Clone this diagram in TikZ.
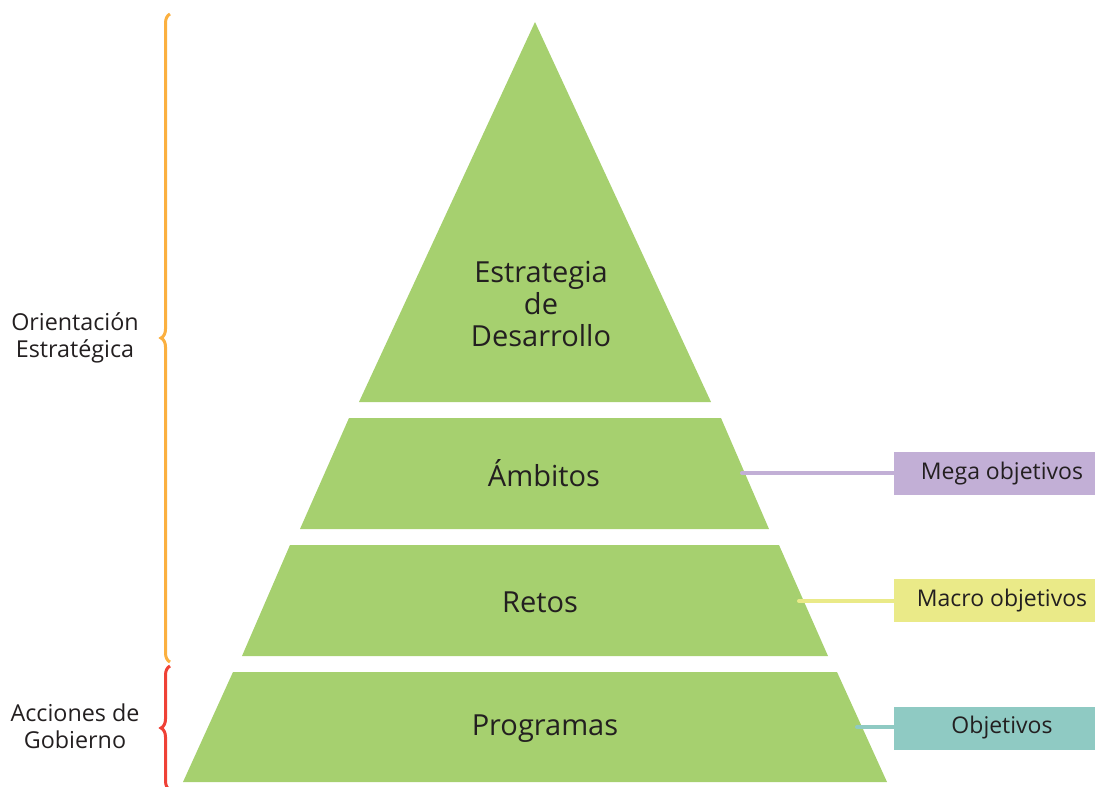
\documentclass[tikz,border=0pt]{standalone}
\usepackage{fontspec}
\setmainfont{Open Sans}
\usetikzlibrary{positioning,decorations.pathreplacing}

\definecolor{pyrgreen}{HTML}{A6D06F}
\definecolor{megapurple}{HTML}{C2AFD6}
\definecolor{macroyellow}{HTML}{EAEA88}
\definecolor{objteal}{HTML}{8FCAC3}
\definecolor{braceorange}{HTML}{FBB040}
\definecolor{bracered}{HTML}{EF4136}
\definecolor{ink}{HTML}{231F20}

\begin{document}
\begin{tikzpicture}[x=1pt,y=-1pt,
    level/.style={fill=pyrgreen},
    leveltext/.style={text=ink,align=center,font=\fontsize{29}{32}\selectfont},
    tag/.style={minimum width=216pt,minimum height=43pt,inner sep=0pt,text=ink,font=\fontsize{23}{26}\selectfont},
    sidetext/.style={text=ink,align=center,font=\fontsize{23.3}{27}\selectfont},
    brc/.style={decorate,decoration={brace,amplitude=9pt},line width=3pt},
    link/.style={line width=4pt,line cap=round}]
    \useasboundingbox (0,0) rectangle (1095,787);

    % pyramid
    \coordinate (apex) at (535,22);
    \fill[level] (apex) -- (711,402) -- (359,402) -- cycle;
    \fill[level] (349,418) -- (721,418) -- (769,529) -- (300,529) -- cycle;
    \fill[level] (290,545) -- (779,545) -- (828,656) -- (242,656) -- cycle;
    \fill[level] (233,672) -- (837,672) -- (887,782) -- (183,782) -- cycle;

    \node[leveltext] (estrategia) at (541,304) {Estrategia\\de\\ Desarrollo};
    \node[leveltext] (ambitos) at (544,473) {Ámbitos};
    \node[leveltext] (retos) at (540,602) {Retos};
    \node[leveltext] (programas) at (545,729) {Programas};

    % tags on the right
    \node[tag,fill=megapurple] (mega) at (1002,473.5) {Mega objetivos};
    \node[tag,fill=macroyellow] (macro) at (1002,600.5) {Macro objetivos};
    \node[tag,fill=objteal] (obj) at (1002,728) {Objetivos};

    \coordinate (megaend) at (742,473);
    \coordinate (macroend) at (799,601);
    \coordinate (objend) at (857,727);
    \draw[link,megapurple] (megaend) -- (megaend -| mega.west);
    \draw[link,macroyellow] (macroend) -- (macroend -| macro.west);
    \draw[link,objteal] (objend) -- (objend -| obj.west);

    % braces on the left
    \draw[brc,braceorange] (170,662) -- (170,14);
    \draw[brc,bracered] (170,790) -- (170,666);

    \node[sidetext] (orient) at (75,338) {Orientación\\Estratégica};
    \node[sidetext] (acciones) at (75,726) {Acciones de\\Gobierno};
\end{tikzpicture}
\end{document}
